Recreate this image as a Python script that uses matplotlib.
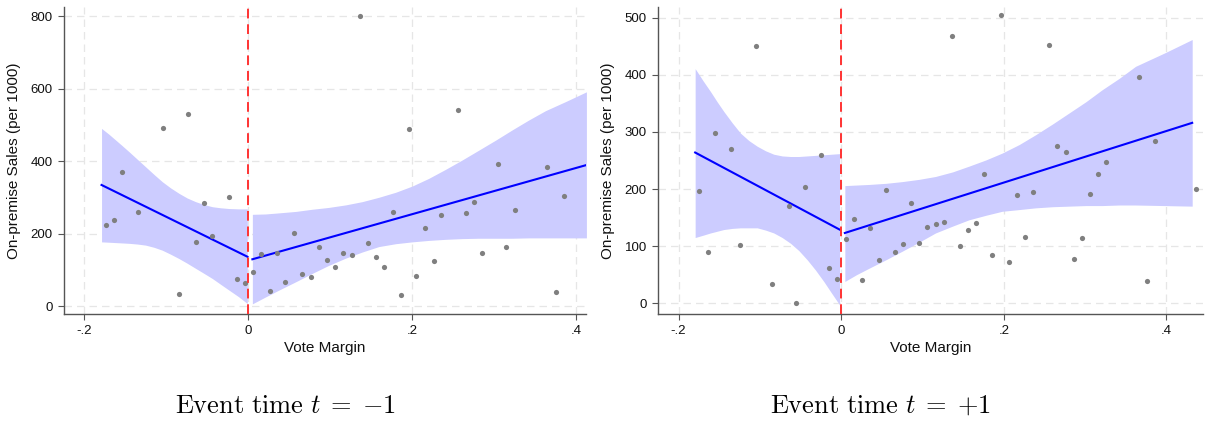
import numpy as np
import matplotlib
matplotlib.use('Agg')
import matplotlib.pyplot as plt

plt.rcParams['font.family'] = ['Liberation Sans', 'DejaVu Sans']
plt.rcParams['mathtext.fontset'] = 'cm'

# ---- panel t = -1 : binned means ----
xm1 = [-0.174, -0.164, -0.154, -0.134, -0.104, -0.084, -0.074, -0.064, -0.054, -0.044,
       -0.024, -0.014, -0.004, 0.006, 0.016, 0.026, 0.035, 0.045, 0.056, 0.066,
       0.076, 0.086, 0.096, 0.106, 0.115, 0.126, 0.136, 0.146, 0.156, 0.165,
       0.176, 0.186, 0.196, 0.205, 0.215, 0.226, 0.235, 0.256, 0.265, 0.275,
       0.285, 0.305, 0.315, 0.325, 0.365, 0.375, 0.385]
ym1 = [223, 238, 371, 259, 492, 34, 530, 177, 284, 193,
       301, 74, 63, 94, 143, 42, 147, 65, 201, 88,
       80, 164, 126, 108, 147, 140, 801, 174, 134, 107,
       260, 30, 489, 84, 216, 123, 251, 542, 257, 286,
       146, 391, 163, 265, 384, 40, 304]

# fitted lines (left / right of cutoff)
fit_l_x_m1 = [-0.179, -0.001]
fit_l_y_m1 = [334, 136]
fit_r_x_m1 = [0.005, 0.4125]
fit_r_y_m1 = [129, 389]

# confidence bands
band_l_x_m1 = [-0.179, -0.170, -0.1618, -0.1536, -0.1456, -0.1354, -0.1252, -0.115, -0.1049,
               -0.0948, -0.0846, -0.0745, -0.0643, -0.054, -0.0439, -0.0338, -0.0236, -0.012, -0.0012]
band_l_hi_m1 = [490, 474, 458, 442, 426, 405, 384, 363, 343, 326, 311, 298, 288, 280, 274, 271, 269, 268, 268]
band_l_lo_m1 = [177, 176, 175, 174, 173, 171, 168, 162, 154, 143, 131, 118, 104, 90, 76, 60, 44, 26, 7]
band_r_x_m1 = [0.005, 0.021, 0.0374, 0.058, 0.078, 0.098, 0.1187, 0.139, 0.1593, 0.18, 0.2,
               0.22, 0.2406, 0.261, 0.2812, 0.302, 0.322, 0.342, 0.3626, 0.388, 0.4125]
band_r_hi_m1 = [253, 254, 257, 261, 267, 272, 279, 288, 300, 314, 331, 352, 377, 403, 430, 458, 486, 513, 539, 565, 591]
band_r_lo_m1 = [6, 25, 44, 67, 90, 112, 132, 149, 164, 172, 177, 181, 184, 186, 187, 187, 187, 188, 188, 188, 188]

# ---- panel t = +1 ----
xp1 = [-0.175, -0.164, -0.155, -0.135, -0.125, -0.105, -0.085, -0.064, -0.055, -0.045,
       -0.025, -0.015, -0.005, 0.006, 0.016, 0.025, 0.036, 0.046, 0.055, 0.066,
       0.076, 0.086, 0.096, 0.106, 0.116, 0.126, 0.136, 0.146, 0.156, 0.166,
       0.176, 0.186, 0.196, 0.206, 0.216, 0.226, 0.236, 0.256, 0.266, 0.276,
       0.286, 0.296, 0.306, 0.316, 0.326, 0.366, 0.376, 0.386, 0.436]
yp1 = [197, 89, 298, 270, 102, 451, 33, 171, 0, 203,
       260, 61, 42, 112, 148, 40, 132, 76, 198, 89,
       103, 176, 105, 133, 138, 142, 468, 101, 129, 140,
       226, 84, 505, 72, 190, 116, 195, 452, 276, 265,
       77, 115, 192, 226, 247, 397, 39, 285, 200]

fit_l_x_p1 = [-0.1796, -0.002]
fit_l_y_p1 = [264, 129]
fit_r_x_p1 = [0.0045, 0.4317]
fit_r_y_p1 = [123, 316]

band_l_x_p1 = [-0.1796, -0.170, -0.1608, -0.1526, -0.1444, -0.134, -0.1239, -0.1136, -0.1033, -0.093,
               -0.0829, -0.0726, -0.0624, -0.052, -0.0418, -0.0316, -0.0214, -0.012, -0.002]
band_l_hi_p1 = [411, 390, 371, 353, 336, 316, 298, 285, 275, 267, 261, 258, 257, 257, 258, 259, 260, 261, 262]
band_l_lo_p1 = [115, 119, 123, 126, 129, 131, 132, 132, 132, 128, 123, 115, 105, 92, 76, 58, 38, 18, -3]
band_r_x_p1 = [0.0045, 0.019, 0.034, 0.055, 0.075, 0.096, 0.116, 0.137, 0.157, 0.178, 0.198,
               0.219, 0.239, 0.26, 0.28, 0.301, 0.321, 0.342, 0.362, 0.397, 0.4317]
band_r_hi_p1 = [206, 207, 208, 210, 213, 217, 222, 230, 240, 251, 263, 278, 295, 314, 333, 353, 374, 394, 415, 438, 462]
band_r_lo_p1 = [38, 50, 61, 76, 91, 107, 123, 135, 146, 154, 161, 164, 167, 169, 170, 171, 171, 172, 172, 171, 170]

xticks = [-0.2, 0, 0.2, 0.4]
xticklabels = ['-.2', '0', '.2', '.4']

BAND = '#ccccff'
LINE = '#0000ff'
DOT = '#7f7f7f'
GRID = '#e6e6e6'
SPINE = '#555555'


def draw_panel(ax, x, y, fits, bands, xlim, ylim, yticks):
    for bx, lo, hi in bands:
        ax.fill_between(bx, lo, hi, color=BAND, lw=0, zorder=1)
    for fx, fy in fits:
        ax.plot(fx, fy, color=LINE, lw=1.5, zorder=3)
    ax.scatter(x, y, s=14, color=DOT, lw=0, zorder=4)
    ax.axvline(0, color='#ff3333', lw=1.4, ls=(0, (5, 3)), zorder=5)
    ax.set_xlim(*xlim)
    ax.set_ylim(*ylim)
    ax.set_xticks(xticks)
    ax.set_xticklabels(xticklabels)
    ax.set_yticks(yticks)
    ax.grid(True, color=GRID, ls=(0, (6, 4)), lw=0.9, zorder=0)
    ax.set_axisbelow(True)
    for s in ['top', 'right']:
        ax.spines[s].set_visible(False)
    for s in ['left', 'bottom']:
        ax.spines[s].set_color(SPINE)
        ax.spines[s].set_linewidth(1.0)
    ax.tick_params(colors=SPINE, labelcolor='#111111', labelsize=9.5, length=4, width=0.8, pad=4)
    ax.set_xlabel('Vote Margin', fontsize=11, color='#111111', labelpad=3)
    ax.set_ylabel('On-premise Sales (per 1000)', fontsize=11, color='#111111', labelpad=7)


fig = plt.figure(figsize=(12.06, 4.21), dpi=100)
ax1 = fig.add_axes([64 / 1206, 1 - 314 / 421, 522 / 1206, 307 / 421])
ax2 = fig.add_axes([658 / 1206, 1 - 314 / 421, 545 / 1206, 307 / 421])

draw_panel(ax1, xm1, ym1,
           [(fit_l_x_m1, fit_l_y_m1), (fit_r_x_m1, fit_r_y_m1)],
           [(band_l_x_m1, band_l_lo_m1, band_l_hi_m1), (band_r_x_m1, band_r_lo_m1, band_r_hi_m1)],
           (-0.2248, 0.412), (-22, 825), [0, 200, 400, 600, 800])
draw_panel(ax2, xp1, yp1,
           [(fit_l_x_p1, fit_l_y_p1), (fit_r_x_p1, fit_r_y_p1)],
           [(band_l_x_p1, band_l_lo_p1, band_l_hi_p1), (band_r_x_p1, band_r_lo_p1, band_r_hi_p1)],
           (-0.2253, 0.445), (-19, 519), [0, 100, 200, 300, 400, 500])

fig.text(285 / 1206, 1 - 406 / 421, r'$\mathrm{Event\ time}\ t\;=\;{-1}$', ha='center', va='center', fontsize=19)
fig.text(880 / 1206, 1 - 406 / 421, r'$\mathrm{Event\ time}\ t\;=\;{+1}$', ha='center', va='center', fontsize=19)

fig.savefig('out.png', dpi=100)
